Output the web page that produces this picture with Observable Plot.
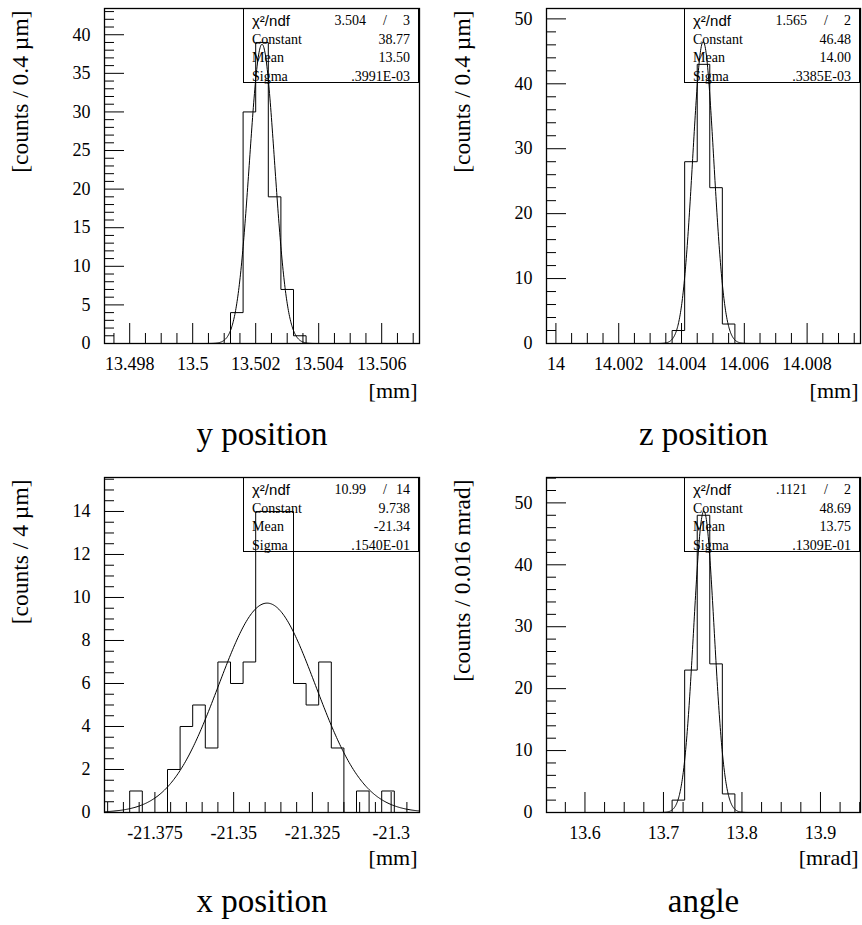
<!DOCTYPE html>
<html><head><meta charset="utf-8">
<script src="https://cdn.jsdelivr.net/npm/d3@7"></script>
<script src="https://cdn.jsdelivr.net/npm/@observablehq/plot@0.6"></script>
<style>
html,body{margin:0;padding:0;background:#fff;}
#root{position:relative;width:862px;height:925px;overflow:hidden;font-family:"Liberation Serif","Times New Roman",serif;color:#000;}
.panel{position:absolute;}
.panel text{font-family:"Liberation Serif","Times New Roman",serif;}
.stats{position:absolute;border:1.3px solid #000;box-sizing:border-box;font-size:14px;color:#000;pointer-events:none;}
.row{position:absolute;left:0;right:0;height:19px;line-height:19px;}
.row span{position:absolute;white-space:nowrap;top:0;}
.sans{font-family:"Liberation Sans",Arial,sans-serif;font-size:15px;}
</style></head><body><div id="root"></div>
<script>
// ---------- data ----------
// y position
const yTitle = "y position";
const yAxisTitle = "[counts / 0.4 µm]";
const yUnit = "[mm]";
const yBinLow = 13.4972, yBinWidth = 0.0004;
const yCounts = [0,0,0,0,0,0,0,0,0,0,4,30,39,19,7,1,0,0,0,0,0,0,0,0,0];
const yXTickLabels = ["13.498","13.5","13.502","13.504","13.506"];
const yYTickLabels = ["0","5","10","15","20","25","30","35","40"];
const yFit = [38.77, 13.50220, 0.0003991]; // constant, mean, sigma
const yStats = ["3.504","3","38.77","13.50",".3991E-03"];

// z position
const zTitle = "z position";
const zAxisTitle = "[counts / 0.4 µm]";
const zUnit = "[mm]";
const zBinLow = 13.9997, zBinWidth = 0.0004;
const zCounts = [0,0,0,0,0,0,0,0,0,0,2,28,43,24,3,0,0,0,0,0,0,0,0,0,0];
const zXTickLabels = ["14","14.002","14.004","14.006","14.008"];
const zYTickLabels = ["0","10","20","30","40","50"];
const zFit = [46.48, 14.00469, 0.0003385];
const zStats = ["1.565","2","46.48","14.00",".3385E-03"];

// x position
const xTitle = "x position";
const xAxisTitle = "[counts / 4 µm]";
const xUnit = "[mm]";
const xBinLow = -21.391, xBinWidth = 0.004;
const xCounts = [0,0,1,0,0,2,4,5,3,7,6,7,14,14,14,6,5,7,3,0,1,0,1,0,0];
const xXTickLabels = ["-21.375","-21.35","-21.325","-21.3"];
const xYTickLabels = ["0","2","4","6","8","10","12","14"];
const xFit = [9.738, -21.3394, 0.01540];
const xStats = ["10.99","14","9.738","-21.34",".1540E-01"];

// angle
const aTitle = "angle";
const aAxisTitle = "[counts / 0.016 mrad]";
const aUnit = "[mrad]";
const aBinLow = 13.551, aBinWidth = 0.016;
const aCounts = [0,0,0,0,0,0,0,0,0,0,2,23,48,24,3,0,0,0,0,0,0,0,0,0,0];
const aXTickLabels = ["13.6","13.7","13.8","13.9"];
const aYTickLabels = ["0","10","20","30","40","50"];
const aFit = [48.69, 13.7515, 0.01309];
const aStats = [".1121","2","48.69","13.75",".1309E-01"];

const statNames = ["Constant","Mean","Sigma"];

// ---------- layout ----------
const panels = [
  {title:yTitle, yTitle:yAxisTitle, unit:yUnit, lo:yBinLow, bw:yBinWidth, counts:yCounts, xt:yXTickLabels, yt:yYTickLabels, fit:yFit, stats:yStats,
   yMax:43.4, xMinor:0.0005, yMinor:1, left:0, top:0, W:431, H:468, ml:104, mr:12, mt:8, mb:125, unitDy:54, titleDy:101},
  {title:zTitle, yTitle:zAxisTitle, unit:zUnit, lo:zBinLow, bw:zBinWidth, counts:zCounts, xt:zXTickLabels, yt:zYTickLabels, fit:zFit, stats:zStats,
   yMax:51.6, xMinor:0.0005, yMinor:2, left:431, top:0, W:431, H:468, ml:115, mr:2, mt:8, mb:125, unitDy:54, titleDy:101},
  {title:xTitle, yTitle:xAxisTitle, unit:xUnit, lo:xBinLow, bw:xBinWidth, counts:xCounts, xt:xXTickLabels, yt:xYTickLabels, fit:xFit, stats:xStats,
   yMax:15.58, xMinor:0.005, yMinor:0.5, left:0, top:468, W:431, H:457, ml:104, mr:12, mt:9, mb:113, unitDy:52, titleDy:99},
  {title:aTitle, yTitle:aAxisTitle, unit:aUnit, lo:aBinLow, bw:aBinWidth, counts:aCounts, xt:aXTickLabels, yt:aYTickLabels, fit:aFit, stats:aStats,
   yMax:54.1, xMinor:0.025, yMinor:2, left:431, top:468, W:431, H:457, ml:115, mr:2, mt:9, mb:113, unitDy:52, titleDy:99}
];

const SERIF = "Liberation Serif";

function between(lo, hi, step) {
  const k0 = Math.ceil(lo / step - 1e-7), k1 = Math.floor(hi / step + 1e-7);
  return d3.range(k0, k1 + 1).map(k => +(k * step).toFixed(10));
}

const root = document.getElementById("root");

for (const p of panels) {
  const frameW = p.W - p.ml - p.mr, frameH = p.H - p.mt - p.mb;
  const n = p.counts.length;
  const xDomain = [p.lo, p.lo + n * p.bw];
  const steps = p.counts.map((c, i) => ({x: p.lo + i * p.bw, y: c}));
  steps.push({x: xDomain[1], y: p.counts[n - 1]});
  const [C, mu, sigma] = p.fit;
  const a = Math.max(xDomain[0], mu - 4.5 * sigma), b = Math.min(xDomain[1], mu + 4.5 * sigma);
  const fitPts = d3.range(0, 301).map(i => {
    const x = a + (b - a) * i / 300;
    return {x, y: C * Math.exp(-0.5 * ((x - mu) / sigma) ** 2)};
  });
  const majorX = p.xt.map(Number);
  const majorY = p.yt.map(Number);
  const minorX = between(xDomain[0], xDomain[1], p.xMinor).filter(v => !majorX.some(m => Math.abs(m - v) < p.xMinor / 100));
  const minorY = between(0, p.yMax, p.yMinor).filter(v => !majorY.some(m => Math.abs(m - v) < p.yMinor / 100));

  const svg = Plot.plot({
    width: p.W, height: p.H,
    marginLeft: p.ml, marginRight: p.mr, marginTop: p.mt, marginBottom: p.mb,
    style: {fontFamily: SERIF, fontSize: "18px", background: "white", color: "black", overflow: "visible"},
    x: {domain: xDomain},
    y: {domain: [0, p.yMax]},
    marks: [
      Plot.tickX(majorX, {x: d => d, insetTop: frameH - 20, stroke: "black", strokeWidth: 1}),
      Plot.tickX(minorX, {x: d => d, insetTop: frameH - 10, stroke: "black", strokeWidth: 1}),
      Plot.tickY(majorY, {y: d => d, insetRight: frameW - 20, stroke: "black", strokeWidth: 1}),
      Plot.tickY(minorY, {y: d => d, insetRight: frameW - 10, stroke: "black", strokeWidth: 1}),
      Plot.axisX(majorX, {anchor: "bottom", tickSize: 0, tickPadding: 14, label: null, fontSize: 18, fontFamily: SERIF, fontVariant: "normal",
        tickFormat: d => p.xt[majorX.indexOf(d)]}),
      Plot.axisY(majorY, {anchor: "left", tickSize: 0, tickPadding: 14, label: null, fontSize: 18, fontFamily: SERIF, fontVariant: "normal",
        tickFormat: d => p.yt[majorY.indexOf(d)]}),
      Plot.line(steps, {x: "x", y: "y", curve: "step-after", stroke: "black", strokeWidth: 1}),
      Plot.line(fitPts, {x: "x", y: "y", stroke: "black", strokeWidth: 1, clip: true}),
      Plot.frame({stroke: "black", strokeWidth: 1.3}),
      Plot.text([p.unit], {text: d => d, frameAnchor: "bottom-right", dx: -2, dy: p.unitDy, fontSize: 22, fontFamily: SERIF, textAnchor: "end", lineAnchor: "bottom"}),
      Plot.text([p.yTitle], {text: d => d, frameAnchor: "top-left", dx: -84, dy: 2, rotate: -90, textAnchor: "end", lineAnchor: "middle", fontSize: 23.5, fontFamily: SERIF}),
      Plot.text([p.title], {text: d => d, frameAnchor: "bottom", dy: p.titleDy, fontSize: 33, fontFamily: SERIF, lineAnchor: "bottom"})
    ]
  });
  svg.classList.add("panel");
  svg.style.left = p.left + "px";
  svg.style.top = p.top + "px";
  root.appendChild(svg);

  // stats box (legend-like annotation)
  const boxW = 176, boxH = 75;
  const box = document.createElement("div");
  box.className = "stats";
  box.style.left = (p.left + p.W - p.mr - boxW) + "px";
  box.style.top = (p.top + p.mt) + "px";
  box.style.width = boxW + "px";
  box.style.height = boxH + "px";
  const rowsHtml = [];
  rowsHtml.push(`<div class="row" style="top:2px"><span class="sans" style="left:8px">χ²/ndf</span><span style="right:52px">${p.stats[0]}</span><span style="right:31px">/</span><span style="right:8px">${p.stats[1]}</span></div>`);
  statNames.forEach((name, i) => {
    rowsHtml.push(`<div class="row" style="top:${2 + 18.7 * (i + 1)}px"><span style="left:8px">${name}</span><span style="right:8px">${p.stats[i + 2]}</span></div>`);
  });
  box.innerHTML = rowsHtml.join("");
  root.appendChild(box);
}
</script>
</body></html>
